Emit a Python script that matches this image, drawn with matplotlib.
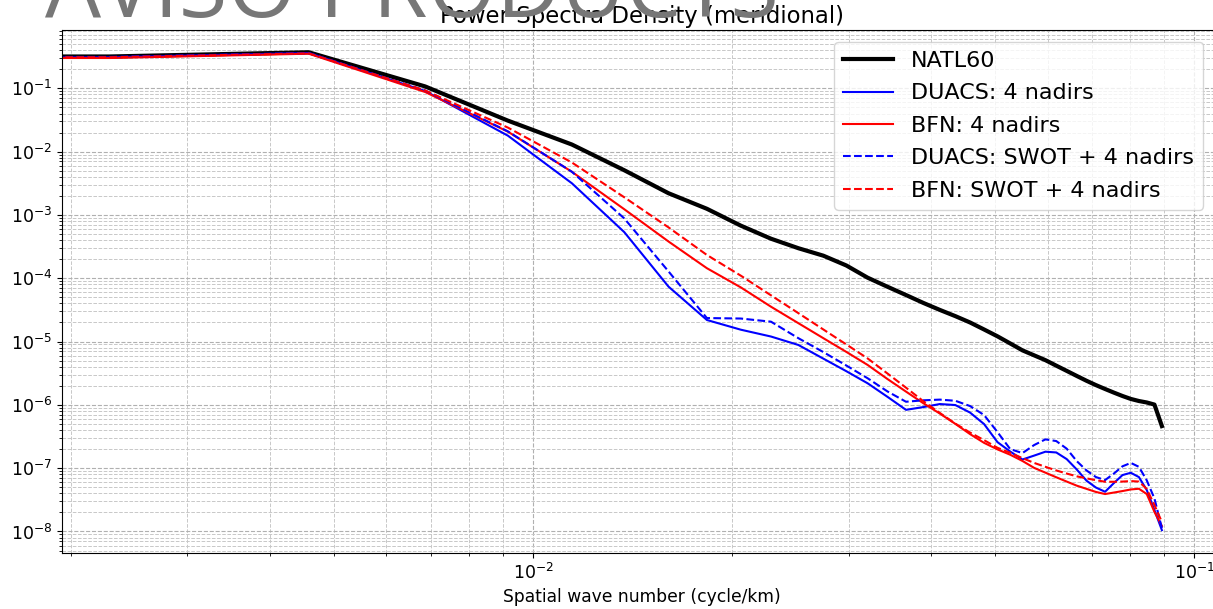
import numpy as np
import matplotlib
matplotlib.use("Agg")
import matplotlib.pyplot as plt
from matplotlib.ticker import LogLocator, NullFormatter

# Spatial wave numbers (cycle/km)
wavenumber = [0.0, 0.00229, 0.00458, 0.00687, 0.00916, 0.01145, 0.01374, 0.01603,
              0.01832, 0.02061, 0.0229, 0.02519, 0.02748, 0.02977, 0.03206, 0.03435,
              0.03664, 0.03893, 0.04122, 0.04351, 0.0458, 0.04809, 0.05038, 0.05267,
              0.05496, 0.05725, 0.05954, 0.06183, 0.06412, 0.06641, 0.0687, 0.07099,
              0.07328, 0.07557, 0.07786, 0.08015, 0.08244, 0.08473, 0.08702, 0.08931]

natl60 = [0.318, 0.318, 0.371, 0.107, 0.0309, 0.01294, 5.08e-3, 2.20e-3, 1.25e-3, 6.78e-4,
          4.21e-4, 2.98e-4, 2.27e-4, 1.59e-4, 1.02e-4, 7.34e-5, 5.43e-5, 4.07e-5, 3.16e-5,
          2.52e-5, 2.00e-5, 1.55e-5, 1.21e-5, 9.33e-6, 7.26e-6, 6.05e-6, 5.08e-6, 4.16e-6,
          3.44e-6, 2.86e-6, 2.40e-6, 2.05e-6, 1.78e-6, 1.56e-6, 1.38e-6, 1.24e-6, 1.15e-6,
          1.09e-6, 1.01e-6, 4.62e-7]

duacs_4nadirs = [0.309, 0.309, 0.361, 0.0906, 0.0179, 3.16e-3, 5.35e-4, 7.36e-5, 2.19e-5,
                 1.54e-5, 1.20e-5, 8.83e-6, 5.37e-6, 3.40e-6, 2.19e-6, 1.34e-6, 8.34e-7,
                 9.23e-7, 1.03e-6, 9.93e-7, 7.55e-7, 4.97e-7, 2.58e-7, 1.83e-7, 1.37e-7,
                 1.58e-7, 1.82e-7, 1.77e-7, 1.39e-7, 9.51e-8, 6.34e-8, 4.94e-8, 4.24e-8,
                 5.82e-8, 7.78e-8, 8.46e-8, 7.23e-8, 4.51e-8, 2.18e-8, 1.05e-8]

bfn_4nadirs = [0.301, 0.301, 0.352, 0.0874, 0.0207, 4.80e-3, 1.23e-3, 3.80e-4, 1.44e-4,
               7.18e-5, 3.55e-5, 1.95e-5, 1.13e-5, 6.86e-6, 4.27e-6, 2.56e-6, 1.62e-6,
               1.06e-6, 7.29e-7, 5.01e-7, 3.45e-7, 2.51e-7, 1.98e-7, 1.63e-7, 1.30e-7,
               1.01e-7, 8.49e-8, 7.18e-8, 6.14e-8, 5.29e-8, 4.71e-8, 4.21e-8, 3.90e-8,
               4.12e-8, 4.35e-8, 4.61e-8, 4.73e-8, 3.90e-8, 2.04e-8, 1.22e-8]

duacs_swot = [0.313, 0.313, 0.361, 0.0923, 0.0209, 4.80e-3, 8.81e-4, 1.28e-4, 2.35e-5,
              2.31e-5, 2.06e-5, 1.13e-5, 6.82e-6, 4.18e-6, 2.63e-6, 1.63e-6, 1.12e-6,
              1.18e-6, 1.21e-6, 1.16e-6, 9.57e-7, 6.90e-7, 3.72e-7, 2.00e-7, 1.73e-7,
              2.32e-7, 2.85e-7, 2.68e-7, 2.03e-7, 1.29e-7, 9.20e-8, 7.23e-8, 6.48e-8,
              8.22e-8, 1.07e-7, 1.21e-7, 1.05e-7, 6.41e-8, 3.32e-8, 1.13e-8]

bfn_swot = [0.309, 0.309, 0.357, 0.0923, 0.0240, 6.73e-3, 1.90e-3, 6.35e-4, 2.33e-4,
            1.10e-4, 5.37e-5, 2.81e-5, 1.55e-5, 9.00e-6, 5.41e-6, 3.13e-6, 1.87e-6,
            1.14e-6, 7.45e-7, 5.05e-7, 3.65e-7, 2.77e-7, 2.10e-7, 1.75e-7, 1.44e-7,
            1.21e-7, 1.05e-7, 9.20e-8, 8.22e-8, 7.43e-8, 6.90e-8, 6.46e-8, 6.10e-8,
            6.10e-8, 6.14e-8, 6.25e-8, 6.14e-8, 4.68e-8, 2.62e-8, 1.41e-8]

labels = ["NATL60", "DUACS: 4 nadirs", "BFN: 4 nadirs",
          "DUACS: SWOT + 4 nadirs", "BFN: SWOT + 4 nadirs"]

W, H = 1213, 609
fig = plt.figure(figsize=(W / 100, H / 100), dpi=100)
ax = fig.add_axes([62 / W, (H - 553) / H, (1222 - 62) / W, (553 - 30) / H])

ax.set_xscale("log")
ax.set_yscale("log")

ax.plot(wavenumber, natl60, color="k", lw=3.0, label=labels[0])
ax.plot(wavenumber, duacs_4nadirs, color="b", lw=1.5, label=labels[1])
ax.plot(wavenumber, bfn_4nadirs, color="r", lw=1.5, label=labels[2])
ax.plot(wavenumber, duacs_swot, color="b", lw=1.5, ls="--", label=labels[3])
ax.plot(wavenumber, bfn_swot, color="r", lw=1.5, ls="--", label=labels[4])

ax.set_xlim(0.00194, 0.1101)
ax.set_ylim(10 ** -8.34, 10 ** -0.079)

ax.yaxis.set_major_locator(LogLocator(base=10, numticks=30))
ax.yaxis.set_minor_locator(LogLocator(base=10, subs=np.arange(2, 10), numticks=100))
ax.yaxis.set_minor_formatter(NullFormatter())
ax.xaxis.set_minor_formatter(NullFormatter())

ax.grid(True, which="major", ls="--", color="#b0b0b0", lw=0.8)
ax.grid(True, which="minor", ls="--", color="#c8c8c8", lw=0.7)
ax.tick_params(labelsize=12.5)

ax.set_xlabel("Spatial wave number (cycle/km)", fontsize=12.3, labelpad=4)
ax.set_title("Power Spectra Density (meridional)", fontsize=16.4, pad=5)

ax.legend(loc="upper right", bbox_to_anchor=(1203 / W, 1 - 42 / H),
          bbox_transform=fig.transFigure, borderaxespad=0.0,
          fontsize=16, handlelength=2.25, labelspacing=0.56)

# Slide heading laid over the top of the figure
head = fig.text(45 / W, 1 - 17.5 / H, "AVISO PRODUCTS", fontsize=60,
                family="Open Sans", color="#777777", ha="left", va="baseline",
                zorder=10)
fig.canvas.draw()
w = head.get_window_extent().width
head.set_fontsize(60 * 735 / w)

fig.savefig("out.png", dpi=100)
